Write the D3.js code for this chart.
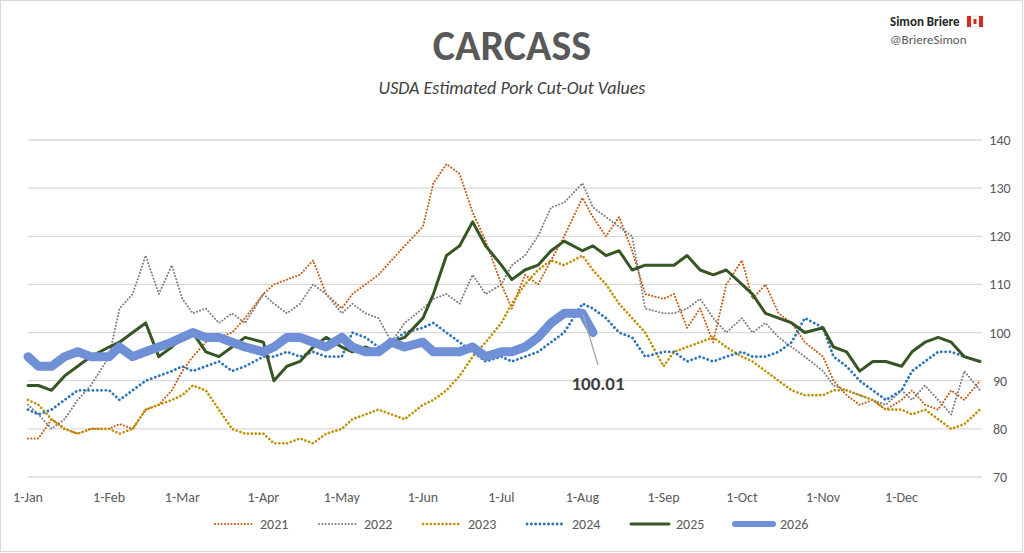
<!DOCTYPE html>
<html><head><meta charset="utf-8">
<script src="https://cdn.jsdelivr.net/npm/d3@7"></script>
<style>body{margin:0;background:#fff;font-family:Calibri,"Liberation Sans",Arial,sans-serif}</style>
</head><body><svg id="c" width="1024" height="553"></svg>
<script>
const months=["Jan","Feb","Mar","Apr","May","Jun","Jul","Aug","Sep","Oct","Nov","Dec"];
const sampleDays=[1,5,10,15,20,25];
const yTicks=[70,80,90,100,110,120,130,140];
const seriesNames=["2021","2022","2023","2024","2025","2026"];
const s2021=[78,78,82,80,79,80, 80,81,80,84,85,88, 92,95,98,99,100,103, 108,110,111,112,115,108, 105,108,110,112,115,118, 122,131,135,133,125,119, 110,105,112,110,115,120, 128,124,120,124,117,108, 107,108,101,105,98,110, 115,107,110,104,102,98, 95,90,87,85,86,84, 86,88,85,84,88,86,90];
const s2022=[85,83,80,82,86,89, 95,105,108,116,108,114, 107,104,105,102,104,102, 108,106,104,106,110,108, 104,106,104,103,98,102, 105,107,108,106,112,108, 110,114,116,120,126,127, 131,126,124,122,120,105, 104,104,105,107,103,100, 103,100,102,99,97,95, 92,89,88,87,86,85, 88,86,89,86,83,92,88];
const s2023=[86,85,82,80,79,80, 80,79,80,84,85,86, 87,89,88,84,80,79, 79,77,77,78,77,79, 80,82,83,84,83,82, 85,86,88,91,95,98, 102,106,110,113,115,114, 116,113,110,106,103,100, 93,96,97,98,99,97, 95,94,92,90,88,87, 87,88,88,87,86,84, 84,83,84,82,80,81,84];
const s2024=[84,83,84,86,88,88, 88,86,88,90,91,92, 93,92,93,94,92,93, 95,95,96,95,96,95, 95,100,99,97,98,100, 101,102,100,98,96,94, 95,94,95,96,98,100, 106,105,103,100,99,95, 96,96,94,95,94,95, 96,95,95,96,98,103, 101,95,93,90,88,86, 88,92,94,96,96,95,94];
const s2025=[89,89,88,91,93,95, 97,98,100,102,95,97, 99,100,96,95,97,99, 98,90,93,94,97,99, 97,96,97,96,98,99, 103,108,116,118,123,118, 114,111,113,114,117,119, 117,118,116,117,113,114, 114,114,116,113,112,113, 110,108,104,103,102,100, 101,97,96,92,94,94, 93,96,98,99,98,95,94];
const s2026=[95,93,93,95,96,95, 95,97,95,96,97,98, 99,100,99,99,98,97, 96,97,99,99,98,97, 99,97,96,96,98,97, 98,96,96,96,97,95, 96,96,97,99,102,104, 104,100.01];
const seriesValues=[s2021,s2022,s2023,s2024,s2025,s2026];
const lastLabel="100.01";

const styles=[
 {c:"#C55A11",w:2,d:"0.1,3.2"},
 {c:"#7F7F7F",w:2,d:"0.1,3.2"},
 {c:"#BF9000",w:2.6,d:"0.1,3.8"},
 {c:"#2E75B6",w:2.8,d:"0.1,4.2"},
 {c:"#375623",w:3,d:null},
 {c:"#6F8FD6",w:9,d:null}];

const dates=[];
months.forEach((m,i)=>sampleDays.forEach(d=>dates.push(new Date(2021,i,d))));
dates.push(new Date(2021,11,31));

const svg=d3.select("#c");
svg.append("rect").attr("x",0.5).attr("y",0.5).attr("width",1022).attr("height",551).attr("fill","#fff").attr("stroke","#d9d9d9");
const x=d3.scaleTime().domain([new Date(2021,0,1),new Date(2021,11,31)]).range([28,980]);
const y=d3.scaleLinear().domain([70,140]).range([477,140]);

const g=svg.append("g");
g.selectAll(".gl").data(yTicks).join("line").attr("x1",28).attr("x2",982)
 .attr("y1",d=>y(d)).attr("y2",d=>y(d)).attr("stroke","#d9d9d9").attr("stroke-width",1.3);
g.selectAll(".yl").data(yTicks).join("text").attr("x",1000).attr("y",d=>y(d)+5)
 .attr("text-anchor","middle").attr("font-size",14).attr("fill","#595959").text(d=>d);
const xt=months.map((m,i)=>new Date(2021,i,1));
g.selectAll(".xl").data(xt).join("text").attr("x",d=>x(d)).attr("y",502)
 .attr("text-anchor","middle").attr("font-size",14).attr("fill","#595959").text((d,i)=>"1-"+months[i]);

const line=d3.line().x((d,i)=>x(dates[i])).y(d=>y(d));
seriesValues.forEach((s,k)=>{
 const p=g.append("path").attr("d",line(s)).attr("fill","none").attr("stroke",styles[k].c)
  .attr("stroke-width",styles[k].w).attr("stroke-linecap","round").attr("stroke-linejoin","round");
 if(styles[k].d)p.attr("stroke-dasharray",styles[k].d);
});
const li=s2026.length-1;
const lx=x(dates[li]), ly=y(s2026[li]);
g.append("line").attr("x1",lx-10).attr("y1",ly-18).attr("x2",598).attr("y2",365).attr("stroke","#a6a6a6").attr("stroke-width",1.3);
g.append("text").attr("x",598).attr("y",390).attr("text-anchor","middle").attr("font-size",19).attr("font-weight","bold").attr("fill","#404040").text(lastLabel);

svg.append("text").attr("x",512).attr("y",60).attr("text-anchor","middle").attr("font-size",42).attr("font-weight","bold").attr("fill","#595959").text("CARCASS");
svg.append("text").attr("x",512).attr("y",94).attr("text-anchor","middle").attr("font-size",18).attr("font-style","italic").attr("fill","#404040").text("USDA Estimated Pork Cut-Out Values");
svg.append("text").attr("x",890).attr("y",26).attr("font-size",13).attr("font-weight","bold").attr("fill","#262626").text("Simon Briere");
const f=svg.append("g").attr("transform","translate(967,16)");
f.append("rect").attr("width",16).attr("height",11).attr("fill","#fff").attr("stroke","#ccc").attr("stroke-width",.5);
f.append("rect").attr("width",4).attr("height",11).attr("fill","#d52b1e");
f.append("rect").attr("x",12).attr("width",4).attr("height",11).attr("fill","#d52b1e");
f.append("rect").attr("x",6.5).attr("y",3).attr("width",3).attr("height",5).attr("fill","#d52b1e");
svg.append("text").attr("x",890).attr("y",44).attr("font-size",13).attr("fill","#595959").text("@BriereSimon");

const lg=svg.append("g");
seriesNames.forEach((n,k)=>{
 const lx0=215+k*104;
 const l=lg.append("line").attr("x1",lx0).attr("x2",lx0+38).attr("y1",524).attr("y2",524).attr("stroke",styles[k].c)
   .attr("stroke-width",Math.min(styles[k].w,6)).attr("stroke-linecap","round");
 if(styles[k].d)l.attr("stroke-dasharray",styles[k].d);
 lg.append("text").attr("x",lx0+45).attr("y",529).attr("font-size",14).attr("fill","#595959").text(n);
});
</script></body></html>
